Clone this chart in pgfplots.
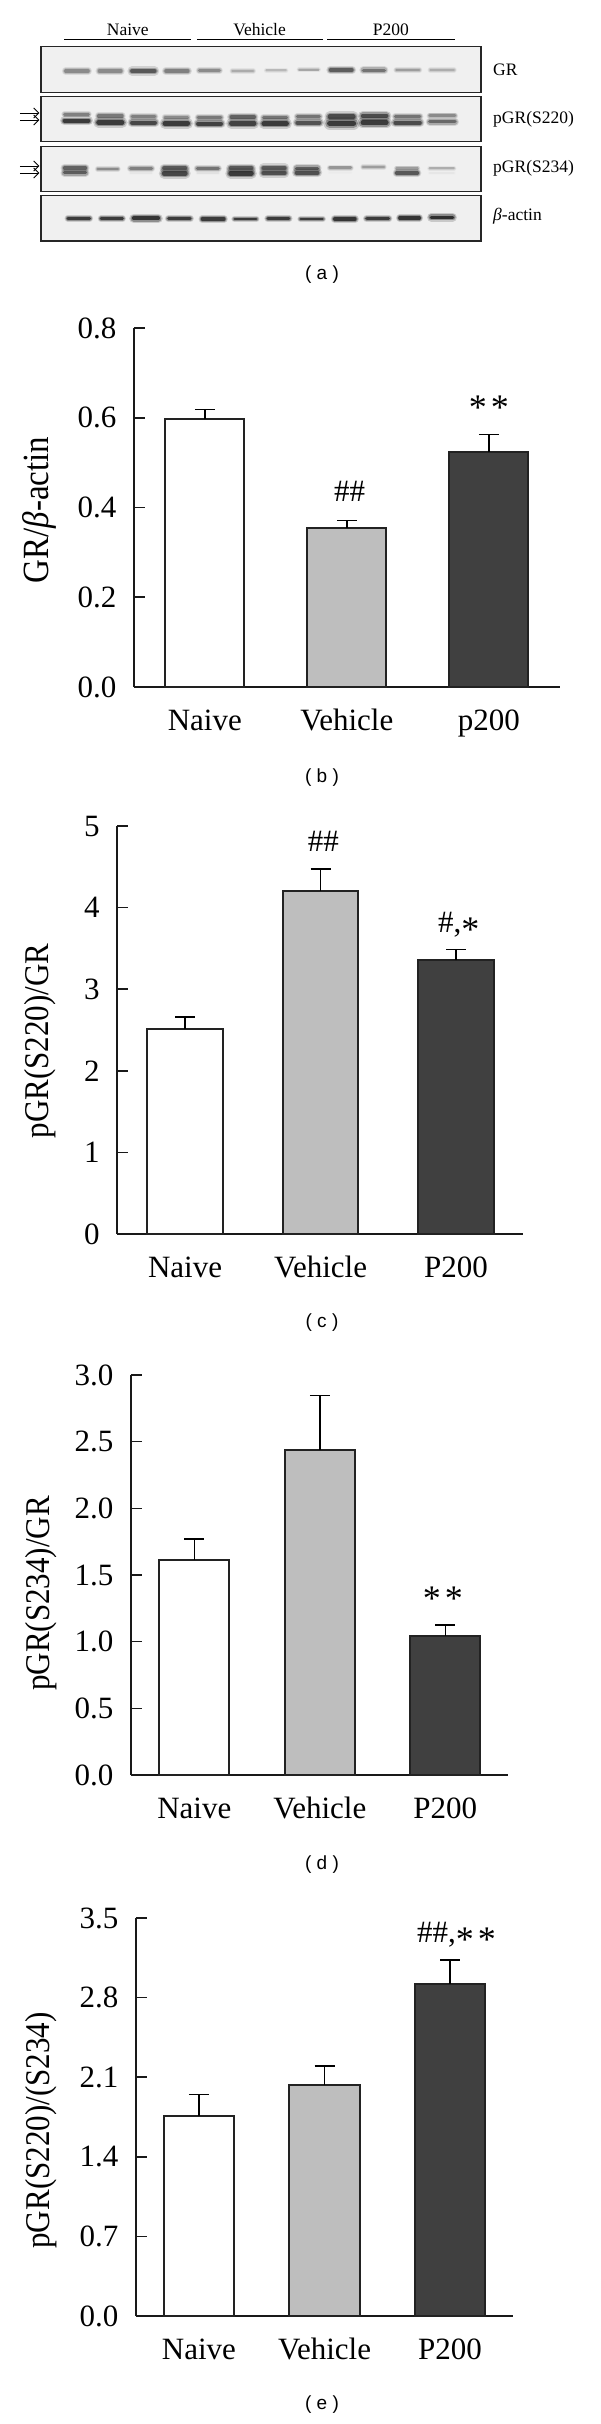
\documentclass[border=0pt]{standalone}
\usepackage{fontspec}
\setmainfont{Liberation Serif}
\newfontfamily\capfont{Liberation Sans}
\usepackage{pgfplots}
\pgfplotsset{compat=1.18}
\usetikzlibrary{arrows.meta}
\definecolor{midbar}{HTML}{BEBEBE}
\definecolor{darkbar}{HTML}{404040}
\definecolor{edge}{HTML}{222222}
\definecolor{blot}{HTML}{F0F0F0}

\newcommand{\bigfont}{\fontsize{31}{35}\selectfont}
\newcommand{\blotfont}{\fontsize{17.5}{20}\selectfont}
\newcommand{\capsize}{\capfont\fontsize{19}{22}\selectfont}
% asterisk dropped onto the text's mid height; the box keeps the node centred
\newcommand{\st}{\smash{\raisebox{-9pt}{\fontsize{36}{36}\selectfont *}}}
\newcommand{\tallylabel}[1]{\scalebox{1}[1.12]{#1}}

\pgfplotsset{
  panel/.style={
    scale only axis, clip=false,
    axis lines=left, axis line style={-, line width=1.6pt, color=black!90},
    tick align=inside, major tick length=11pt,
    ytick pos=left,
    tick style={line width=1.6pt, color=black!90},
    major x tick style={draw=none},
    xtick={0,1,2},
    ymin=0,
    tick label style={font=\bigfont},
    yticklabel style={xshift=-14pt},
    xticklabel style={anchor=base, yshift=-43pt},
    ylabel style={font=\bigfont, anchor=base},
    y tick label style={/pgf/number format/.cd, fixed, fixed zerofill, assume math mode=true},
  },
  whitebar/.style={ybar, bar shift=0pt, fill=white, draw=edge, line width=2pt},
  midbar/.style={ybar, bar shift=0pt, fill=midbar, draw=edge, line width=2pt},
  darkbar/.style={ybar, bar shift=0pt, fill=darkbar, draw=edge, line width=2pt},
  errs/.style={error bars/.cd, y dir=plus, y explicit,
    error bar style={line width=1.5pt, color=black},
    error mark options={rotate=90, mark size=10pt, line width=1.5pt, color=black}},
}

% one blot band: x1, x2, y, thickness, darkness
\newcommand{\band}[5]{%
  \addplot[forget plot, line cap=round, line width={#4*2.1pt}, color=black!#5, opacity=0.18] coordinates {(#1,#3) (#2,#3)};
  \addplot[forget plot, line cap=round, line width={#4*1.5pt}, color=black!#5, opacity=0.35] coordinates {(#1,#3) (#2,#3)};
  \addplot[forget plot, line cap=round, line width={#4*0.9pt}, color=black!#5, opacity=0.8] coordinates {(#1,#3) (#2,#3)};
}
\newcommand{\blotbox}[2]{%
  \addplot[forget plot, fill=blot, draw=black!85, line width=1.6pt] coordinates {(108,#1) (1260,#1) (1260,#2) (108,#2)} --cycle;
}
\newcommand{\arrowat}[1]{%
  \addplot[forget plot, -{Straight Barb[length=5pt,width=10pt]}, line width=0.9pt, color=black] coordinates {(52,#1) (103,#1)};
}

\begin{document}
\begin{tikzpicture}
\fill[white] (0pt,0pt) rectangle (600pt,-2424pt);
\useasboundingbox (0pt,0pt) rectangle (600pt,-2424pt);

% (a) blot, coordinates are those of the crop
\begin{axis}[
  at={(0pt,0pt)}, anchor=north west, scale only axis, width=600pt, height=300pt,
  hide axis, clip=false, xmin=0, xmax=1572, ymin=0, ymax=900, y dir=reverse,
]
\blotbox{140}{277}
\blotbox{289}{425}
\blotbox{439}{575}
\blotbox{587}{723}
\addplot[forget plot, line width=1pt] coordinates {(168,120) (501,120)};
\addplot[forget plot, line width=1pt] coordinates {(516,120) (845,120)};
\addplot[forget plot, line width=1pt] coordinates {(858,120) (1192,120)};
\arrowat{339}\arrowat{360}\arrowat{498}\arrowat{519}
% GR
\band{172}{231}{213}{3.6}{50}\band{260}{317}{213}{3.6}{50}\band{346}{405}{213}{4.4}{72}\band{435}{492}{213}{4}{55}
\band{522}{575}{212}{3.2}{50}\band{609}{663}{213}{2.8}{36}\band{698}{749}{211}{2.4}{30}\band{784}{834}{209}{2.4}{38}
\band{866}{922}{210}{4}{70}\band{952}{1007}{211}{3.8}{60}\band{1039}{1098}{210}{3}{42}\band{1128}{1189}{210}{2.8}{35}
% pGR(S220)
\band{169}{232}{343}{3}{55}\band{258}{320}{348}{3.4}{58}\band{346}{406}{350}{3.2}{55}\band{432}{492}{352}{3}{50}
\band{519}{579}{352}{3.2}{58}\band{606}{666}{351}{4}{68}\band{691}{751}{353}{3.6}{60}\band{779}{837}{350}{3.4}{60}
\band{864}{926}{350}{5}{78}\band{951}{1012}{348}{5}{78}\band{1036}{1100}{350}{3.4}{60}\band{1126}{1192}{347}{3}{50}
\band{169}{232}{362}{4.2}{85}\band{258}{320}{367}{5}{85}\band{346}{406}{368}{4.4}{80}\band{432}{492}{370}{5}{85}
\band{519}{579}{371}{4.4}{82}\band{606}{666}{370}{5}{82}\band{691}{751}{371}{5}{85}\band{779}{837}{368}{4.4}{75}
\band{864}{926}{370}{6}{85}\band{951}{1012}{368}{5.4}{85}\band{1036}{1100}{368}{4.4}{78}\band{1126}{1192}{365}{3.8}{65}
% pGR(S234)
\band{169}{224}{504}{3.8}{68}\band{256}{309}{507}{2.6}{50}\band{342}{397}{505}{3.4}{55}\band{430}{486}{505}{4.4}{72}
\band{517}{572}{505}{3.4}{60}\band{604}{659}{505}{4.4}{72}\band{690}{746}{504}{4.4}{72}\band{777}{832}{505}{3.8}{70}
\band{864}{919}{503}{2.8}{45}\band{951}{1006}{501}{2.6}{42}\band{1039}{1094}{505}{2.6}{42}\band{1126}{1189}{505}{2.4}{35}
\band{169}{224}{518}{3.8}{70}\band{342}{397}{519}{1.6}{10}\band{430}{486}{520}{5}{80}\band{517}{572}{519}{1.6}{12}
\band{604}{659}{520}{5}{85}\band{690}{746}{519}{4.4}{76}\band{777}{832}{518}{4.4}{76}\band{864}{919}{518}{1.6}{8}
\band{1039}{1094}{519}{3.6}{72}\band{1126}{1189}{519}{1.6}{10}
% beta-actin
\band{178}{235}{655}{3.2}{85}\band{265}{321}{656}{3.2}{85}\band{351}{414}{655}{4.6}{88}\band{442}{498}{656}{3.6}{85}
\band{530}{587}{657}{3.6}{85}\band{615}{671}{657}{3.2}{85}\band{702}{757}{656}{3.4}{85}\band{788}{845}{657}{3.2}{85}
\band{877}{930}{657}{3.8}{88}\band{961}{1018}{656}{3.6}{85}\band{1047}{1099}{654}{3.4}{88}\band{1130}{1186}{652}{4}{90}
\node[font=\blotfont] at (axis cs:335,90) {Naive};
\node[font=\blotfont] at (axis cs:680,90) {Vehicle};
\node[font=\blotfont] at (axis cs:1024,90) {P200};
\node[font=\blotfont, anchor=west] at (axis cs:1283,210) {GR};
\node[font=\blotfont, anchor=west] at (axis cs:1283,357) {pGR(S220)};
\node[font=\blotfont, anchor=west] at (axis cs:1283,505) {pGR(S234)};
\node[font=\blotfont, anchor=west] at (axis cs:1283,650) {\textit{β}-actin};
\end{axis}
\node[font=\capsize] at (322pt,-275pt) {( a )};

% (b)
\begin{axis}[panel,
  at={(133.8pt,-687pt)}, anchor=south west, width=426.2pt, height=359pt,
  xmin=-0.5, xmax=2.501, ymax=0.8,
  ytick={0,0.2,0.4,0.6,0.8}, y tick label style={/pgf/number format/precision=1},
  xticklabels={Naive,Vehicle,p200},
  ylabel={\tallylabel{\fontsize{33}{35}\selectfont GR/\textit{β}-actin}},
  ylabel style={at={(axis description cs:-0.199,0.493)}},
  bar width=79.2pt,
]
\addplot[whitebar, errs] coordinates {(0,0.597) +- (0,0.021)};
\addplot[midbar, errs] coordinates {(1,0.355) +- (0,0.016)};
\addplot[darkbar, errs] coordinates {(2,0.523) +- (0,0.040)};
\node[font=\bigfont] at (axis cs:1.02,0.436) {\#\#};
\node[font=\bigfont] at (axis cs:2,0.617) {\st\hspace{4pt}\st};
\end{axis}
\node[font=\capsize] at (322pt,-778pt) {( b )};

% (c)
\begin{axis}[panel,
  at={(117.2pt,-1234pt)}, anchor=south west, width=406.1pt, height=408pt,
  xmin=-0.501, xmax=2.496, ymax=5,
  ytick={0,1,2,3,4,5}, y tick label style={/pgf/number format/precision=0},
  xticklabels={Naive,Vehicle,P200},
  ylabel={\tallylabel{pGR(S220)/GR}},
  ylabel style={at={(axis description cs:-0.1704,0.473)}},
  bar width=75.6pt,
]
\addplot[whitebar, errs] coordinates {(0,2.51) +- (0,0.148)};
\addplot[midbar, errs] coordinates {(1,4.208) +- (0,0.266)};
\addplot[darkbar, errs] coordinates {(2,3.353) +- (0,0.135)};
\node[font=\bigfont] at (axis cs:1.02,4.81) {\#\#};
\node[font=\bigfont] at (axis cs:2.02,3.79) {\#,\st};
\end{axis}
\node[font=\capsize] at (322pt,-1323pt) {( c )};

% (d)
\begin{axis}[panel,
  at={(130.9pt,-1775pt)}, anchor=south west, width=376.7pt, height=400pt,
  xmin=-0.505, xmax=2.496, ymax=3,
  ytick={0,0.5,1,1.5,2,2.5,3}, y tick label style={/pgf/number format/precision=1},
  xticklabels={Naive,Vehicle,P200},
  ylabel={\tallylabel{pGR(S234)/GR}},
  ylabel style={at={(axis description cs:-0.217,0.454)}},
  bar width=70.2pt,
]
\addplot[whitebar, errs] coordinates {(0,1.613) +- (0,0.158)};
\addplot[midbar, errs] coordinates {(1,2.439) +- (0,0.406)};
\addplot[darkbar, errs] coordinates {(2,1.045) +- (0,0.081)};
\node[font=\bigfont] at (axis cs:1.98,1.303) {\st\hspace{4pt}\st};
\end{axis}
\node[font=\capsize] at (322pt,-1864.5pt) {( d )};

% (e)
\begin{axis}[panel,
  at={(135.9pt,-2316pt)}, anchor=south west, width=377.5pt, height=398pt,
  xmin=-0.502, xmax=2.504, ymax=3.5,
  ytick={0,0.7,1.4,2.1,2.8,3.5}, y tick label style={/pgf/number format/precision=1},
  xticklabels={Naive,Vehicle,P200},
  ylabel={\tallylabel{pGR(S220)/(S234)}},
  ylabel style={at={(axis description cs:-0.23,0.466)}},
  bar width=70.2pt,
]
\addplot[whitebar, errs] coordinates {(0,1.759) +- (0,0.189)};
\addplot[midbar, errs] coordinates {(1,2.03) +- (0,0.167)};
\addplot[darkbar, errs] coordinates {(2,2.923) +- (0,0.21)};
\node[font=\bigfont] at (axis cs:2.05,3.355) {\#\#,\st\hspace{4pt}\st};
\end{axis}
\node[font=\capsize] at (322pt,-2405pt) {( e )};
\end{tikzpicture}
\end{document}
